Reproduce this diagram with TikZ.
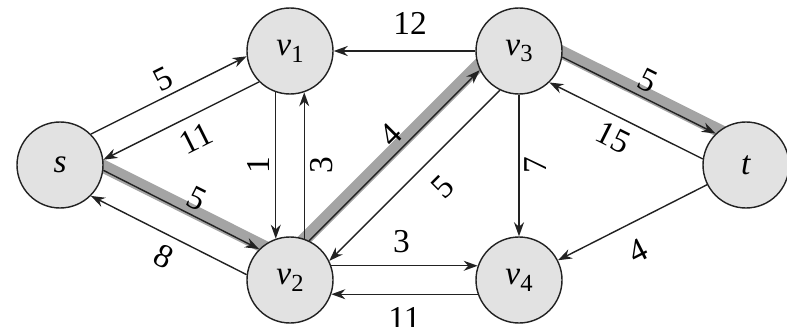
\documentclass[tikz,border=0pt]{standalone}
\usepackage{fontspec}
\setmainfont{Liberation Serif}
\usetikzlibrary{arrows.meta, positioning, backgrounds}
\definecolor{cnode}{HTML}{E2E2E2}
\definecolor{cband}{HTML}{A4A4A4}
\definecolor{cline}{HTML}{222222}
\newcommand{\vx}[1]{\textit{v}\raisebox{-0.45ex}{\fontsize{14}{16}\selectfont #1}}
\tikzset{
  every picture/.style={line width=0.8pt},
  vertex/.style={circle, draw=cline, fill=cnode, minimum size=1.72cm, inner sep=0pt, font=\fontsize{19}{22}\selectfont},
  arc/.style={-{Stealth[length=2.8mm, width=2mm]}, draw=cline},
  band/.style={line width=2.6mm, draw=cband, shorten <=-2mm, shorten >=-2mm},
  wlabel/.style={font=\fontsize{19}{22}\selectfont, inner sep=3pt},
}

\begin{document}
\begin{tikzpicture}[lbl/.style={wlabel, sloped}]
  \useasboundingbox (0,0) rectangle (15.74,6.52);
  \node[vertex] (s) at (1.20,3.22) {\textit{s}};
  \node[vertex] (v1) at (5.80,5.50) {\vx{1}};
  \node[vertex] (v2) at (5.80,0.92) {\vx{2}};
  \node[vertex] (v3) at (10.38,5.50) {\vx{3}};
  \node[vertex] (v4) at (10.38,0.92) {\vx{4}};
  \node[vertex] (t) at (14.92,3.22) {\textit{t}};
  % augmenting path s -> v2 -> v3 -> t
  \begin{scope}[on background layer]
    \foreach \a/\b in {s.-2/v2.129, v2.70/v3.200, v3.-2/t.128}
      \draw[band] (\a) -- (\b);
  \end{scope}
  % sloped edges
  \foreach \a/\b/\p/\w/\d/\lab in {s.45/v1.187/0.51/above/0pt/5, v1.225/s.7/0.47/below/3pt/11,
      s.-7/v2.135/0.55/above/0pt/5, v2.173/s.-45/0.47/below/2pt/8,
      v2.64/v3.206/0.55/above/0pt/4, v3.244/v2.26/0.45/below/6pt/5,
      v2.19/v4.161/0.48/above/4pt/3, v4.199/v2.-19/0.5/below/4pt/11,
      v3.-8/t.134/0.51/above/0pt/5, t.172/v3.-46/0.52/below/2pt/15,
      v3/v1/0.46/above/6pt/12, t/v4/0.55/below/6pt/4}
    \draw[arc] (\a) -- node[lbl, pos=\p, \w=\d] {\lab} (\b);
  % vertical edges
  \draw[arc] (v1.251) -- node[wlabel, rotate=90, anchor=south] {1} (v2.109);
  \draw[arc] (v2.71) -- node[wlabel, rotate=90, anchor=north] {3} (v1.289);
  \draw[arc] (v3) -- node[wlabel, rotate=90, anchor=north] {7} (v4);
\end{tikzpicture}
\end{document}
